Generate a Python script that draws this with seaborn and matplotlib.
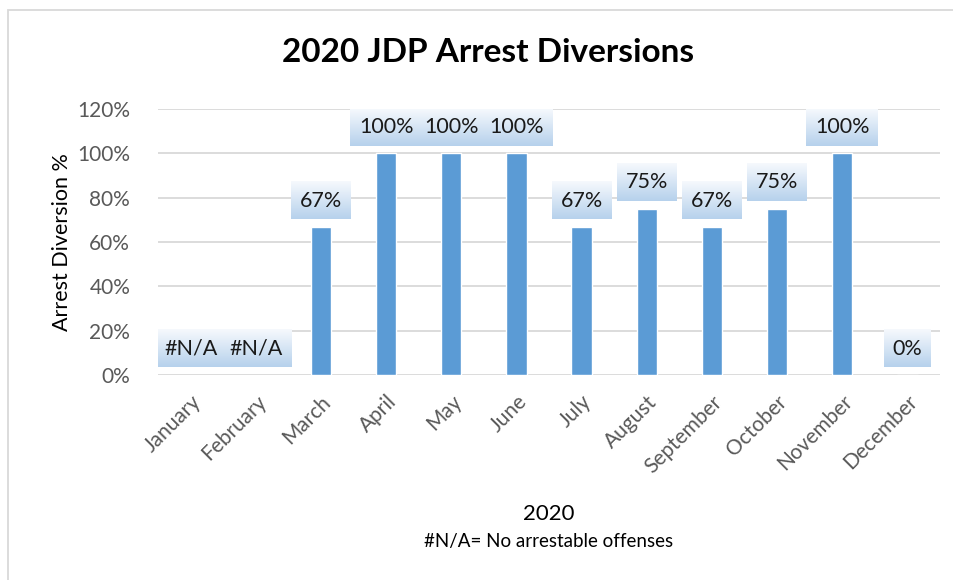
import numpy as np
import pandas as pd
import matplotlib
matplotlib.use("Agg")
import matplotlib.pyplot as plt
import seaborn as sns
from matplotlib.patches import Rectangle
from matplotlib.colors import LinearSegmentedColormap

months = ["January", "February", "March", "April", "May", "June", "July",
          "August", "September", "October", "November", "December"]
diversion = [np.nan, np.nan, 0.667, 1.0, 1.0, 1.0, 0.667, 0.75, 0.667, 0.75, 1.0, 0.0]
labels = ["#N/A", "#N/A", "67%", "100%", "100%", "100%", "67%", "75%", "67%", "75%", "100%", "0%"]

sns.set_style("white")
plt.rcParams["font.family"] = ["Lato", "DejaVu Sans"]

df = pd.DataFrame({"month": months, "diversion": diversion})

fig = plt.figure(figsize=(9.54, 5.8), dpi=100)
ax = fig.add_axes([158 / 954, 1 - 375 / 580, 782 / 954, 266 / 580])

sns.barplot(data=df, x="month", y="diversion", order=months, color="#5B9BD5",
            saturation=1, width=0.31, ax=ax, zorder=2)

ax.set_ylim(0, 1.2)
ax.set_xlim(-0.5, 11.5)
ax.set_yticks(np.arange(0, 1.21, 0.2))
ax.set_yticklabels([f"{int(round(v * 100))}%" for v in np.arange(0, 1.21, 0.2)])
ax.yaxis.grid(True, color="#D9D9D9", linewidth=1.3, zorder=0)
ax.set_axisbelow(True)
for s in ax.spines.values():
    s.set_visible(False)
ax.tick_params(axis="both", length=0, labelsize=15, labelcolor="#595959")
ax.tick_params(axis="y", pad=20)
plt.setp(ax.get_xticklabels(), rotation=45, ha="right", rotation_mode="anchor")
ax.tick_params(axis="x", pad=12)

ax.set_ylabel("Arrest Diversion %", fontsize=15.5, color="black")
ax.yaxis.set_label_coords(-0.11, 0.5)
ax.set_xlabel("2020", fontsize=16, color="black")
ax.xaxis.set_label_coords(0.5, -0.485)

# data labels
texts = []
for i, (v, lab) in enumerate(zip(diversion, labels)):
    y = 0 if np.isnan(v) else v
    t = ax.annotate(lab, xy=(i, y), xytext=(0, 19), textcoords="offset points",
                    ha="center", va="center", fontsize=15.5, color="#1a1a1a", zorder=5,
                    bbox=dict(boxstyle="square,pad=0.4", fc="none", ec="none"))
    texts.append(t)

fig.canvas.draw()
renderer = fig.canvas.get_renderer()
grad = LinearSegmentedColormap.from_list("lbl", ["#b6d1ec", "#f6f9fd"])
gimg = np.linspace(0, 1, 64).reshape(-1, 1)
inv = ax.transData.inverted()
for t in texts:
    ext = t.get_bbox_patch().get_window_extent(renderer)
    (x0, y0), (x1, y1) = inv.transform([[ext.x0, ext.y0], [ext.x1, ext.y1]])
    ax.imshow(gimg, cmap=grad, extent=(x0, x1, y0, y1), origin="lower",
              aspect="auto", zorder=4, interpolation="bilinear")
ax.set_ylim(0, 1.2)
ax.set_xlim(-0.5, 11.5)

fig.text(488 / 954, 1 - 53 / 580, "2020 JDP Arrest Diversions", ha="center", va="center",
         fontsize=24, fontweight="bold", color="black")
fig.text(549 / 954, 1 - 542 / 580, "#N/A= No arrestable offenses", ha="center", va="center",
         fontsize=13.5, color="black")

fig.patches.append(Rectangle((8 / 954, -0.05), 1.1, 1 - 10 / 580 + 0.05,
                             transform=fig.transFigure, fill=False,
                             edgecolor="#D9D9D9", linewidth=1.3))

fig.savefig("out.png", dpi=100)
